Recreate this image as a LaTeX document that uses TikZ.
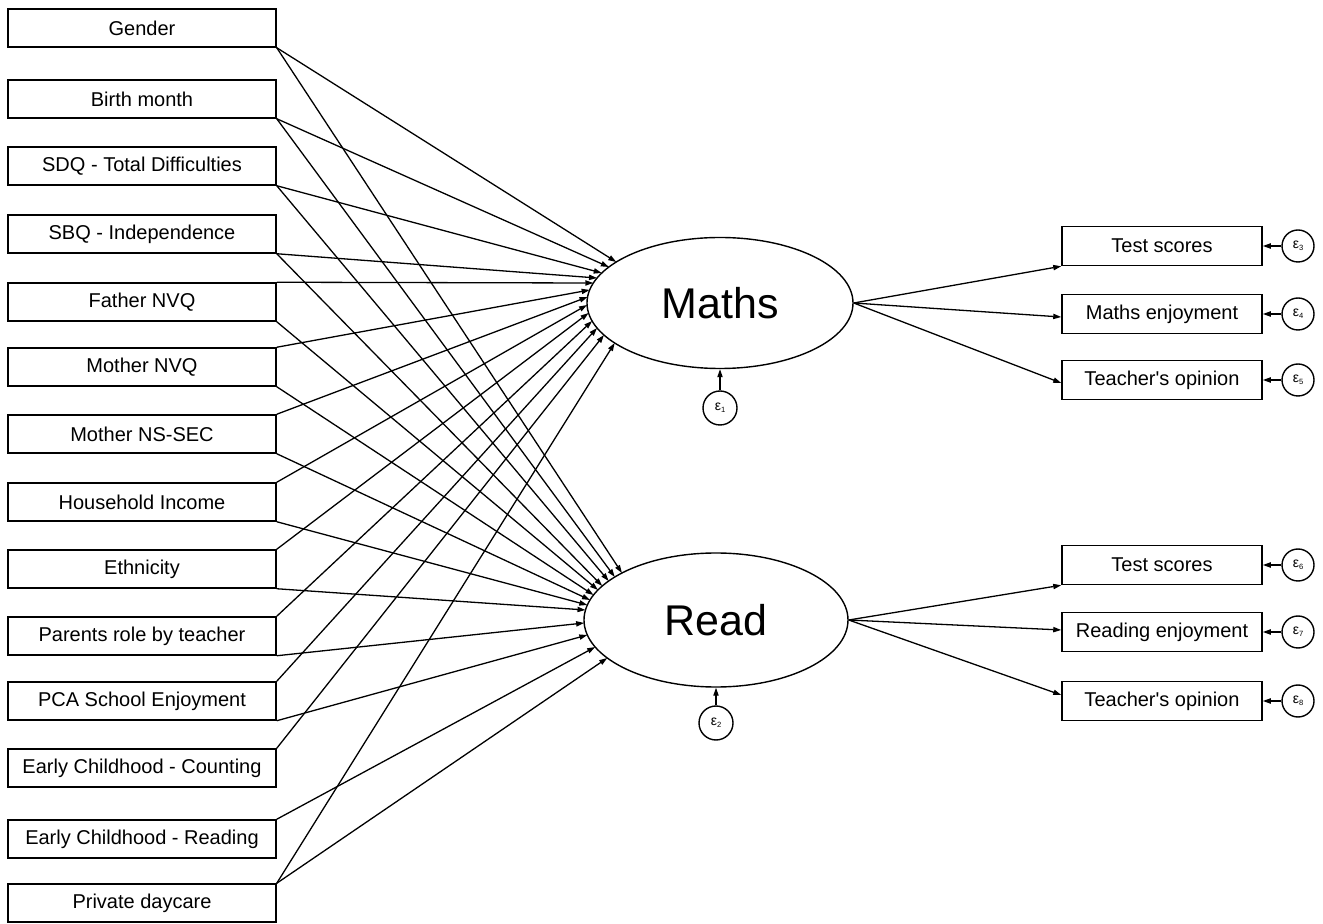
\documentclass[tikz,border=0pt]{standalone}
\usepackage{fontspec}
\setmainfont{Liberation Sans}
\usetikzlibrary{arrows.meta,shapes.geometric,calc}
\newcommand{\epslab}[1]{ε\raisebox{-0.3ex}{\fontsize{3.8}{4}\selectfont #1}}
\begin{document}
\begin{tikzpicture}[x=0.5pt,y=-0.5pt,
  lbox/.style={draw, line width=0.75pt, minimum width=134pt, minimum height=19pt, inner sep=0pt, font=\fontsize{10}{12}\selectfont},
  rbox/.style={draw, line width=0.75pt, minimum width=100pt, minimum height=19.5pt, inner sep=0pt, font=\fontsize{10}{12}\selectfont},
  latent/.style={draw, ellipse, line width=0.7pt, inner sep=0pt, font=\fontsize{21.5}{24}\selectfont},
  err/.style={draw, circle, line width=0.7pt, minimum size=17pt, inner sep=0pt, font=\fontsize{7}{7}\selectfont},
  rerr/.style={err, minimum size=16pt},
  conn/.style={line width=0.65pt, -{Triangle[length=4pt,width=2.6pt]}}]
\useasboundingbox (0,0) rectangle (1323,924);
% exogenous boxes
\foreach \n/\yy/\t in {g/28/Gender, bm/99/Birth month, sdq/166/SDQ - Total Difficulties,
  sbq/234/SBQ - Independence, fnvq/302/Father NVQ, mnvq/367/Mother NVQ,
  nssec/434/Mother NS-SEC, hh/502/Household Income, eth/569/Ethnicity,
  par/636/Parents role by teacher, pca/701/PCA School Enjoyment,
  ecc/768/Early Childhood - Counting, ecr/839/Early Childhood - Reading,
  pd/903/Private daycare}
  \node[lbox] (\n) at (142,\yy) {\t};
% latent variables
\node[latent, minimum width=133pt, minimum height=65.5pt] (maths) at (720,303) {Maths};
\node[latent, minimum width=132pt, minimum height=67pt] (read) at (716,620) {Read};
\node[err] (e1) at (720,408) {\epslab{1}};
\node[err] (e2) at (716,723) {\epslab{2}};
% indicators
\foreach \n/\yy/\t/\e/\k in {mts/246/Test scores/e3/3, men/314/Maths enjoyment/e4/4,
  mto/380/Teacher\textquotesingle s opinion/e5/5, rts/565/Test scores/e6/6,
  ren/632/Reading enjoyment/e7/7, rto/701/Teacher\textquotesingle s opinion/e8/8}{
  \node[rbox] (\n) at (1162,\yy) {\t};
  \node[rerr] (\e) at (1298,\yy) {\epslab{\k}};
  \draw[conn] (\e) -- (\n);
}
% attachment points on the ellipses
\foreach \n/\dy in {g/-41, bm/-36, sdq/-30, sbq/-25, fnvq/-20, mnvq/-13, nssec/-6,
  hh/2, eth/10, par/18, pca/25, ecc/32, pd/40}
  \path (maths.center) ++({-133*sqrt(1-(\dy/65.5)^2)},\dy) coordinate (m-\n);
\foreach \n/\dy in {g/-47, bm/-43, sdq/-39, sbq/-34, fnvq/-30, mnvq/-25, nssec/-20,
  hh/-15, eth/-10, par/3, pca/15, ecr/27, pd/38}
  \path (read.center) ++({-132*sqrt(1-(\dy/67)^2)},\dy) coordinate (r-\n);
% paths to Maths
\foreach \n/\a in {g/south east, bm/south east, sdq/south east, sbq/south east,
  fnvq/north east, mnvq/north east, nssec/north east, hh/north east, eth/north east,
  par/north east, pca/north east, ecc/north east, pd/north east}
  \draw[conn] (\n.\a) -- (m-\n);
% paths to Read
\foreach \n/\a in {g/south east, bm/south east, sdq/south east, sbq/south east,
  fnvq/south east, mnvq/south east, nssec/south east, hh/south east, eth/south east,
  par/south east, pca/south east, ecr/north east, pd/north east}
  \draw[conn] (\n.\a) -- (r-\n);
% errors of latents
\draw[conn] (e1) -- (maths);
\draw[conn] (e2) -- (read);
% measurement paths
\draw[conn] (maths.east) -- (mts.south west);
\draw[conn] (maths.east) -- ([yshift=-1.5pt]men.west);
\draw[conn] (maths.east) -- ([yshift=-1.5pt]mto.west);
\draw[conn] (read.east) -- (rts.south west);
\draw[conn] (read.east) -- ([yshift=1pt]ren.west);
\draw[conn] (read.east) -- ([yshift=3pt]rto.west);
\end{tikzpicture}
\end{document}
